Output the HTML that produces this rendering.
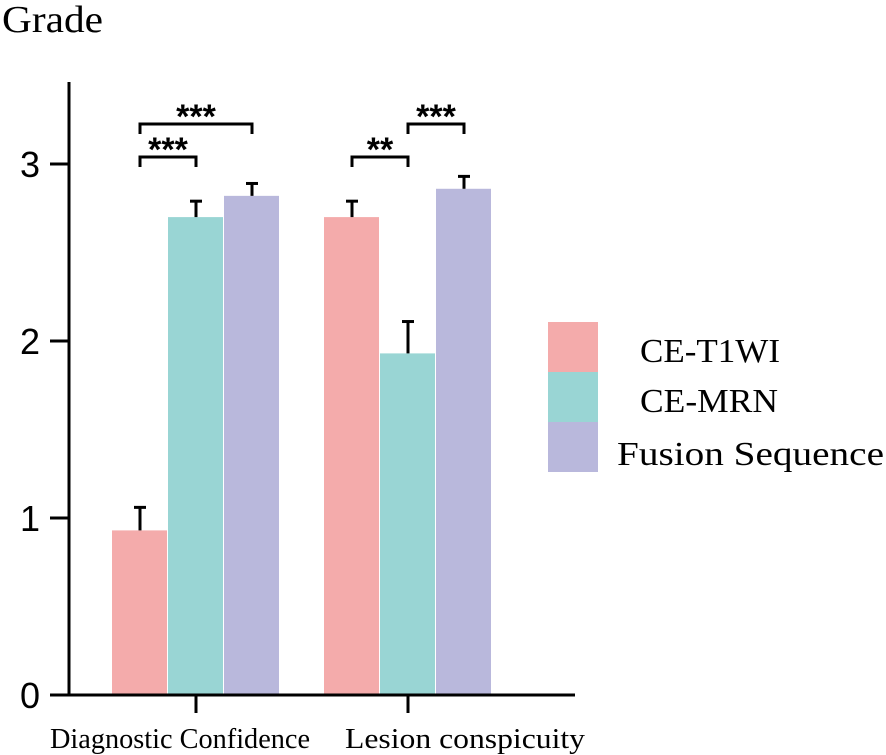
<!DOCTYPE html>
<html><head><meta charset="utf-8"><style>body{margin:0;background:#fff}svg{display:block}</style></head>
<body>
<svg id="chart" width="886" height="755" xmlns="http://www.w3.org/2000/svg">
<text x="2" y="32" font-family="Liberation Serif, serif" font-size="38" textLength="101" lengthAdjust="spacingAndGlyphs">Grade</text>
<g id="marks"></g>
</svg>
<script>
const categories=["Diagnostic Confidence","Lesion conspicuity"];
const series=["CE-T1WI","CE-MRN","Fusion Sequence"];
const colors=["#f4abab","#99d5d4","#b9b8dc"];
const valuesT1=[0.93,2.70];
const valuesMRN=[2.70,1.93];
const valuesFusion=[2.82,2.86];
const errT1=[0.13,0.09];
const errMRN=[0.09,0.18];
const errFusion=[0.07,0.07];
const yTicks=[0,1,2,3];
const sig=[{g:0,a:0,b:1,label:"***",lvl:0},{g:0,a:0,b:2,label:"***",lvl:1},{g:1,a:0,b:1,label:"**",lvl:0},{g:1,a:1,b:2,label:"***",lvl:1}];
const NS="http://www.w3.org/2000/svg";
const g=document.getElementById('marks');
const y=v=>695-v*177;
const center=i=>196+i*212;
const barW=56;
const bx=(gi,si)=>center(gi)-84+si*barW;
function mk(t,a){const e=document.createElementNS(NS,t);for(const k in a)e.setAttribute(k,a[k]);g.appendChild(e);return e;}
const vals=[valuesT1,valuesMRN,valuesFusion],errs=[errT1,errMRN,errFusion];
const labX=[50,345],labW=[260,240];
categories.forEach((c,gi)=>{
 series.forEach((s,si)=>{
  const v=vals[si][gi],e=errs[si][gi],x=bx(gi,si);
  const r=mk('rect',{x:x,y:y(v),width:barW-1,height:y(0)-y(v),fill:colors[si]});
  
  
  const cx=x+barW/2;
  const l=mk('line',{x1:cx,x2:cx,y1:y(v),y2:y(v+e),stroke:'#000','stroke-width':3});
  
  
  const cap=mk('line',{x1:cx-6,x2:cx+6,y1:y(v+e),y2:y(v+e),stroke:'#000','stroke-width':3});
  
  
 });
 const t=mk('line',{x1:center(gi),x2:center(gi),y1:695,y2:713,stroke:'#000','stroke-width':3});
 
 
 const lb=mk('text',{x:labX[gi],y:748,'font-family':'Liberation Serif, serif','font-size':28,textLength:labW[gi],lengthAdjust:'spacingAndGlyphs'});
 lb.textContent=c;
 
 
});
yTicks.forEach(v=>{
 const t=mk('line',{x1:50,x2:69,y1:y(v),y2:y(v),stroke:'#000','stroke-width':3});
 
 
 const tx=mk('text',{x:30,y:y(v)+13,'text-anchor':'middle','font-family':'Liberation Sans, sans-serif','font-size':36});
 tx.textContent=v;
 
 
});
const ax=mk('path',{d:'M69 82 V695 H575',stroke:'#000','stroke-width':3,fill:'none'});


sig.forEach(s=>{
 const x1=bx(s.g,s.a)+barW/2,x2=bx(s.g,s.b)+barW/2;
 const yy=s.lvl?124:157;
 const p=mk('path',{d:`M${x1} ${yy+10} V${yy} H${x2} V${yy+10}`,stroke:'#000','stroke-width':3,fill:'none'});
 
 
 const t=mk('text',{x:(x1+x2)/2,y:yy+4,'text-anchor':'middle','font-family':'Liberation Sans, sans-serif','font-size':34,'font-weight':'bold'});
 t.textContent=s.label;
 
 
});
const lx=[640,640,617],ly=[362,412,465],lw=[140,138,267];
series.forEach((s,i)=>{
 const r=mk('rect',{x:548,y:322+i*50,width:50,height:50,fill:colors[i]});
 
 
 const t=mk('text',{x:lx[i],y:ly[i],'font-family':'Liberation Serif, serif','font-size':34,textLength:lw[i],lengthAdjust:'spacingAndGlyphs'});
 t.textContent=s;
 
 
});
</script>
</body></html>
